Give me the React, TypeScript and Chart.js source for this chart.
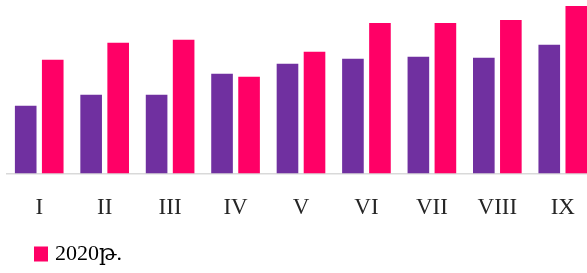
import React, { useEffect, useRef } from "react";
import { Chart, registerables } from "chart.js";

Chart.register(...registerables);

const categories = ["I", "II", "III", "IV", "V", "VI", "VII", "VIII", "IX"];
const series2019 = [68, 79, 79, 100, 110, 115, 117, 116, 129];
const series2020 = [114, 131, 134, 97, 122, 151, 151, 154, 168];
const label2019 = "2019թ.";
const label2020 = "2020թ.";
const purple = "#7030A0";
const pink = "#FF0066";

const legendPlugin = {
  id: "customLegend",
  afterDraw(chart: any) {
    const ctx = chart.ctx;
    const ds = chart.data.datasets[1];
    ctx.save();
    ctx.fillStyle = ds.backgroundColor;
    ctx.fillRect(34, 246.5, 14, 15);
    ctx.fillStyle = "#000000";
    ctx.font = "22px 'Liberation Serif', 'DejaVu Serif', serif";
    ctx.textBaseline = "middle";
    ctx.textAlign = "left";
    ctx.fillText(ds.label, 55, 254);
    ctx.restore();
  },
};

export default function App() {
  const ref = useRef<HTMLCanvasElement | null>(null);
  useEffect(() => {
    if (!ref.current) return;
    const chart = new Chart(ref.current, {
      type: "bar",
      data: {
        labels: categories,
        datasets: [
          { label: label2019, data: series2019, backgroundColor: purple },
          { label: label2020, data: series2020, backgroundColor: pink },
        ],
      },
      options: {
        animation: false,
        responsive: false,
        maintainAspectRatio: false,
        layout: { padding: { left: 6.5, right: 1.5, top: 4, bottom: 30 } },
        datasets: { bar: { categoryPercentage: 0.826, barPercentage: 0.8 } },
        plugins: { legend: { display: false }, tooltip: { enabled: false } },
        scales: {
          x: {
            grid: { display: false, drawTicks: false },
            border: { display: true, color: "#d9d9d9", width: 1.5 },
            ticks: {
              color: "#262626",
              padding: 21,
              font: { family: "'Liberation Serif', serif", size: 23 },
            },
          },
          y: { display: false, min: 0, max: 170 },
        },
      },
      plugins: [legendPlugin],
    } as any);
    return () => chart.destroy();
  }, []);
  return (
    <div style={{ position: "fixed", left: 0, top: 0, width: 597, height: 273 }}>
      <canvas ref={ref} width={597} height={273} style={{ display: "block" }} />
    </div>
  );
}
